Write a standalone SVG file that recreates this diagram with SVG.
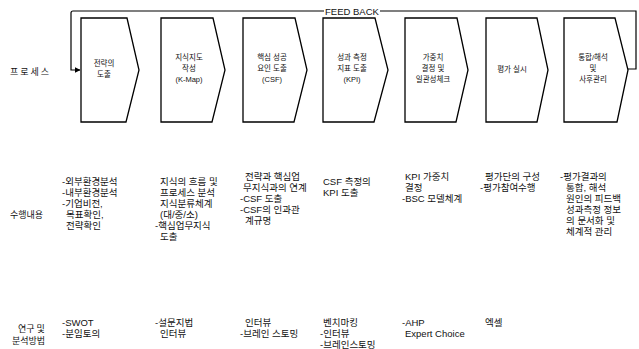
<svg xmlns="http://www.w3.org/2000/svg" width="639" height="349" viewBox="0 0 639 349">
<defs>
<marker id="arr" markerWidth="6" markerHeight="6" refX="5.5" refY="3" orient="auto" markerUnits="userSpaceOnUse">
<path d="M0,0 L6,3 L0,6 Z" fill="#000"/>
</marker>
<style>
.node path{fill:#fff;stroke:#000;stroke-width:1.3}
.nt{font-family:"Liberation Sans","Noto Sans CJK KR",sans-serif;font-size:7.5px;fill:#111;text-anchor:middle}
.t{font-family:"Liberation Sans","Noto Sans CJK KR",sans-serif;font-size:9.5px;fill:#111}
.lbl{font-family:"Noto Sans CJK KR",sans-serif;font-size:9px;fill:#111}
.con{fill:none;stroke:#000;stroke-width:1.2}
</style>
</defs>
<rect width="639" height="349" fill="#fff"/>

<g id="connectors">
<path class="con" d="M324,11 H73 Q71,11 71,13 V70 H80" marker-end="url(#arr)"/>
<path class="con" d="M380,11 H636 V69 H628"/>
<text x="352" y="14.5" text-anchor="middle" font-family="Liberation Sans, Arial, sans-serif" font-size="9.5" fill="#111">FEED BACK</text>
</g>

<g id="node1" class="node">
<path d="M81,18 H127 L139,70 L126,122 H81 Z"/>
<text class="nt" x="104" y="66">전략의</text>
<text class="nt" x="104" y="77">도출</text>
</g>
<g id="node2" class="node">
<path d="M161,18 H213 L225,70 L212,122 H161 Z"/>
<text class="nt" x="189" y="60">지식지도</text>
<text class="nt" x="189" y="71">작성</text>
<text class="nt" x="189" y="82">(K-Map)</text>
</g>
<g id="node3" class="node">
<path d="M243,18 H295 L307,70 L294,122 H243 Z"/>
<text class="nt" x="272" y="60">핵심 성공</text>
<text class="nt" x="272" y="71">요인 도출</text>
<text class="nt" x="272" y="82">(CSF)</text>
</g>
<g id="node4" class="node">
<path d="M323,18 H375 L388,70 L374,122 H323 Z"/>
<text class="nt" x="352" y="60">성과 측정</text>
<text class="nt" x="352" y="71">지표 도출</text>
<text class="nt" x="352" y="82">(KPI)</text>
</g>
<g id="node5" class="node">
<path d="M405,18 H457 L468,70 L456,122 H405 Z"/>
<text class="nt" x="433" y="60">가중치</text>
<text class="nt" x="433" y="71">결정 및</text>
<text class="nt" x="433" y="82">일관성체크</text>
</g>
<g id="node6" class="node">
<path d="M486,18 H537 L548,70 L537,122 H486 Z"/>
<text class="nt" x="512" y="72">평가 실시</text>
</g>
<g id="node7" class="node">
<path d="M564,18 H615 L628,70 L617,122 H564 Z"/>
<text class="nt" x="593" y="60">통합/해석</text>
<text class="nt" x="593" y="71">및</text>
<text class="nt" x="593" y="82">사후관리</text>
</g>

<g id="labels">
<text class="lbl" x="10" y="75" letter-spacing="2">프로세스</text>
<text class="lbl" x="10" y="218">수행내용</text>
<text class="lbl" x="18" y="332">연구 및</text>
<text class="lbl" x="12" y="344">분석방법</text>
</g>

<g id="row2">
<text class="t" x="62" y="185">-외부환경분석</text>
<text class="t" x="62" y="196">-내부환경분석</text>
<text class="t" x="62" y="207">-기업비전,</text>
<text class="t" x="66" y="218">목표확인,</text>
<text class="t" x="66" y="229">전략확인</text>

<text class="t" x="160" y="185">지식의 흐름 및</text>
<text class="t" x="160" y="196">프로세스 분석</text>
<text class="t" x="160" y="207">지식분류체계</text>
<text class="t" x="160" y="218">(대/중/소)</text>
<text class="t" x="155" y="229">-핵심업무지식</text>
<text class="t" x="160" y="240">도출</text>

<text class="t" x="245" y="180">전략과 핵심업</text>
<text class="t" x="243" y="191">무지식과의 연계</text>
<text class="t" x="240" y="202">-CSF 도출</text>
<text class="t" x="240" y="213">-CSF의 인과관</text>
<text class="t" x="245" y="224">계규명</text>

<text class="t" x="323" y="185">CSF 측정의</text>
<text class="t" x="323" y="196">KPI 도출</text>

<text class="t" x="405" y="180">KPI 가중치</text>
<text class="t" x="405" y="191">결정</text>
<text class="t" x="402" y="202">-BSC 모델체계</text>

<text class="t" x="485" y="180">평가단의 구성</text>
<text class="t" x="480" y="191">-평가참여수행</text>

<text class="t" x="560" y="180">-평가결과의</text>
<text class="t" x="566" y="191">통합, 해석</text>
<text class="t" x="566" y="202">원인의 피드백</text>
<text class="t" x="566" y="213">성과측정 정보</text>
<text class="t" x="566" y="224">의 문서화 및</text>
<text class="t" x="566" y="235">체계적 관리</text>
</g>

<g id="row3">
<text class="t" x="62" y="326">-SWOT</text>
<text class="t" x="62" y="337">-분임토의</text>

<text class="t" x="155" y="326">-설문지법</text>
<text class="t" x="160" y="337">인터뷰</text>

<text class="t" x="245" y="326">인터뷰</text>
<text class="t" x="240" y="337">-브레인 스토밍</text>

<text class="t" x="323" y="326">벤치마킹</text>
<text class="t" x="320" y="337">-인터뷰</text>
<text class="t" x="320" y="348">-브레인스토밍</text>

<text class="t" x="402" y="326">-AHP</text>
<text class="t" x="405" y="337">Expert Choice</text>

<text class="t" x="485" y="326">엑셀</text>
</g>
</svg>
